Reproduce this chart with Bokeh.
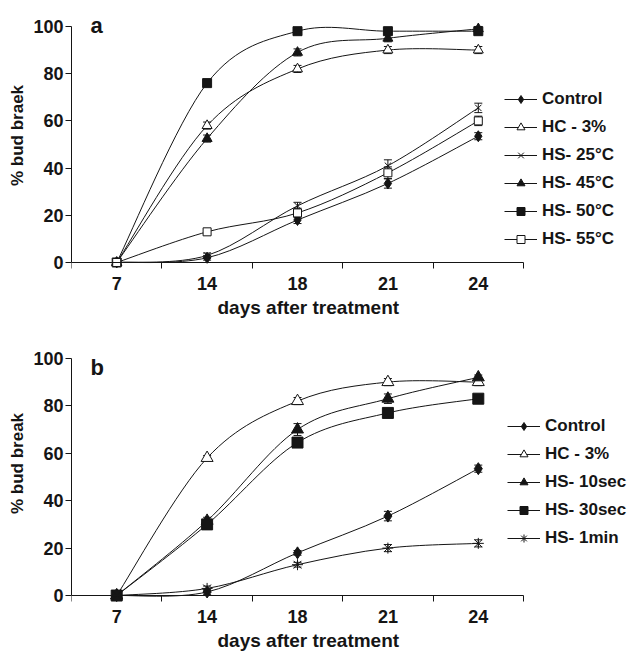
from bokeh.plotting import figure
from bokeh.models import (FixedTicker, Legend, LegendItem, Whisker, ColumnDataSource, Label,
                          TeeHead, LinearAxis, Title)
from bokeh.layouts import column
from bokeh.embed import file_html
from bokeh.resources import INLINE

days = ["7", "14", "18", "21", "24"]
y_ticks = [0, 20, 40, 60, 80, 100]

# Panel a : heat shock temperature
a_names = ["Control", "HC - 3%", "HS- 25°C", "HS- 45°C", "HS- 50°C", "HS- 55°C"]
a_control = [0, 2, 18, 33.5, 53.5]
a_hc = [0, 58, 82, 90, 90]
a_hs25 = [0, 3, 24, 41, 65.5]
a_hs45 = [0, 52.5, 89, 95, 99]
a_hs50 = [0, 76, 98, 98, 98]
a_hs55 = [0, 13, 21, 38, 60]
a_err_control = [0, 1, 1.5, 2, 1.5]
a_err_hc = [0, 1.5, 1.5, 1.5, 1.5]
a_err_hs25 = [0, 1, 1.5, 2.5, 2]
a_err_hs45 = [0, 1.5, 1.5, 1.5, 1]
a_err_hs50 = [0, 1.5, 1, 1, 1]
a_err_hs55 = [0, 1, 2, 2.5, 2]

# Panel b : heat shock duration
b_names = ["Control", "HC - 3%", "HS- 10sec", "HS- 30sec", "HS- 1min"]
b_control = [0, 1.5, 18, 33.5, 53.5]
b_hc = [0, 58, 82, 90, 90]
b_hs10 = [0, 31.5, 70, 83, 92]
b_hs30 = [0, 30, 64.5, 77, 83]
b_hs1m = [0, 3, 13, 20, 22]
b_err_control = [0, 1, 1, 2, 1.5]
b_err_hc = [0, 1, 1.5, 1.5, 1.5]
b_err_hs10 = [0, 1.5, 2.5, 2, 1]
b_err_hs30 = [0, 1.5, 1.5, 1.5, 1]
b_err_hs1m = [0, 1, 1, 1.5, 1.5]

FONT = "Liberation Sans"
INK = "#151515"

xpos = [i + 0.5 for i in range(len(days))]


def bez_source(x, y):
    n = len(x)
    d = dict(x0=[], y0=[], x1=[], y1=[], cx0=[], cy0=[], cx1=[], cy1=[])
    for i in range(n - 1):
        pm = max(i - 1, 0)
        pp = min(i + 2, n - 1)
        d["x0"].append(x[i]); d["y0"].append(y[i])
        d["x1"].append(x[i + 1]); d["y1"].append(y[i + 1])
        d["cx0"].append(x[i] + (x[i + 1] - x[pm]) / 6.0)
        d["cy0"].append(y[i] + (y[i + 1] - y[pm]) / 6.0)
        d["cx1"].append(x[i + 1] - (x[pp] - x[i]) / 6.0)
        d["cy1"].append(y[i + 1] - (y[pp] - y[i]) / 6.0)
    return ColumnDataSource(d)


def make_panel(letter, names, series, errs, markers, ylabel, fheight, ystart, yend,
               bbottom, legend_loc):
    n = len(days)
    p = figure(width=634, height=fheight, x_range=(0, n * 563 / 452), y_range=(ystart, yend),
               output_backend="svg", toolbar_location=None,
               min_border_left=71, min_border_right=0, min_border_top=0,
               min_border_bottom=bbottom)
    p.outline_line_color = None
    p.xgrid.grid_line_color = None
    p.ygrid.grid_line_color = None
    p.background_fill_color = "white"
    p.border_fill_color = "white"

    # main bottom axis: only the tick labels
    xa = p.xaxis[0]
    xa.ticker = FixedTicker(ticks=xpos)
    xa.major_label_overrides = {v: d for v, d in zip(xpos, days)}
    xa.bounds = (0, n)
    xa.axis_line_color = None
    xa.major_tick_line_color = None
    xa.minor_tick_line_color = None
    xa.major_tick_out = 0
    xa.major_tick_in = 0
    xa.major_label_standoff = 6

    # axis line at y = 0 with category boundary ticks
    x0axis = LinearAxis(ticker=FixedTicker(ticks=xpos, minor_ticks=list(range(n + 1))),
                        fixed_location=0, bounds=(0, n),
                        axis_line_color=INK, major_tick_line_color=None,
                        major_tick_out=0, major_tick_in=0,
                        minor_tick_line_color=INK, minor_tick_out=6, minor_tick_in=0,
                        major_label_text_alpha=0, major_label_text_font_size="1px")
    p.add_layout(x0axis, "below")

    # x axis title, placed under the category span
    p.add_layout(Title(text="days after treatment", align="left", offset=146,
                       standoff=5, text_font=FONT, text_font_style="bold",
                       text_font_size="19px", text_color=INK), "below")

    ya = p.yaxis[0]
    ya.ticker = FixedTicker(ticks=y_ticks)
    ya.bounds = (0, 100)
    ya.minor_tick_line_color = None
    ya.major_tick_out = 6
    ya.major_tick_in = 0
    ya.major_tick_line_color = INK
    ya.axis_line_color = INK
    ya.axis_label = ylabel
    ya.major_label_standoff = 2
    ya.axis_label_standoff = 3

    for ax in (xa, ya):
        ax.major_label_text_font = FONT
        ax.major_label_text_font_style = "bold"
        ax.major_label_text_font_size = "18px"
        ax.major_label_text_color = INK
    ya.axis_label_text_font = FONT
    ya.axis_label_text_font_style = "bold"
    ya.axis_label_text_font_size = "17px"
    ya.axis_label_text_color = INK

    items = []
    for name, ys, es, (mk, fill, size) in zip(names, series, errs, markers):
        br = p.bezier(x0="x0", y0="y0", x1="x1", y1="y1", cx0="cx0", cy0="cy0",
                      cx1="cx1", cy1="cy1", source=bez_source(xpos, ys),
                      line_color=INK, line_width=1)
        src = ColumnDataSource(dict(x=xpos, y=ys,
                                    up=[v + e for v, e in zip(ys, es)],
                                    lo=[v - e for v, e in zip(ys, es)]))
        w = Whisker(base="x", upper="up", lower="lo", source=src, dimension="height",
                    line_color=INK, line_width=1,
                    upper_head=TeeHead(size=8, line_color=INK, line_width=1),
                    lower_head=TeeHead(size=8, line_color=INK, line_width=1))
        p.add_layout(w)
        sr = p.scatter("x", "y", source=src, marker=mk, size=size,
                       fill_color=fill, line_color=INK, line_width=1)
        items.append(LegendItem(label=name, renderers=[br, sr]))

    leg = Legend(items=items, location=legend_loc, glyph_width=33, glyph_height=20,
                 label_height=20, spacing=8, padding=0, margin=0, label_standoff=5,
                 label_text_font=FONT, label_text_font_style="bold",
                 label_text_font_size="17px", label_text_color=INK,
                 border_line_color=None, background_fill_alpha=0)
    p.add_layout(leg)

    p.add_layout(Label(x=0.21, y=letter[1], text=letter[0], text_font=FONT,
                       text_font_style="bold", text_font_size="22px",
                       text_color=INK, text_baseline="alphabetic"))
    return p


pa = make_panel(("a", 100.3), a_names,
                [a_control, a_hc, a_hs25, a_hs45, a_hs50, a_hs55],
                [a_err_control, a_err_hc, a_err_hs25, a_err_hs45, a_err_hs50, a_err_hs55],
                [("diamond", INK, 11), ("triangle", "white", 10), ("x", INK, 9),
                 ("triangle", INK, 10), ("square", INK, 9), ("square", "white", 8)],
                "% bud braek", 323, -3.39, 111.0, 53, (433, 21))

pb = make_panel(("b", 96.2), b_names,
                [b_control, b_hc, b_hs10, b_hs30, b_hs1m],
                [b_err_control, b_err_hc, b_err_hs10, b_err_hs30, b_err_hs1m],
                [("diamond", INK, 12), ("triangle", "white", 12), ("triangle", INK, 12),
                 ("square", INK, 11), ("asterisk", INK, 11)],
                "% bud break", 330, -3.36, 114.71, 49, (436, 55))

layout = column(pa, pb, spacing=0)
open("out.html", "w").write(file_html(layout, INLINE))
